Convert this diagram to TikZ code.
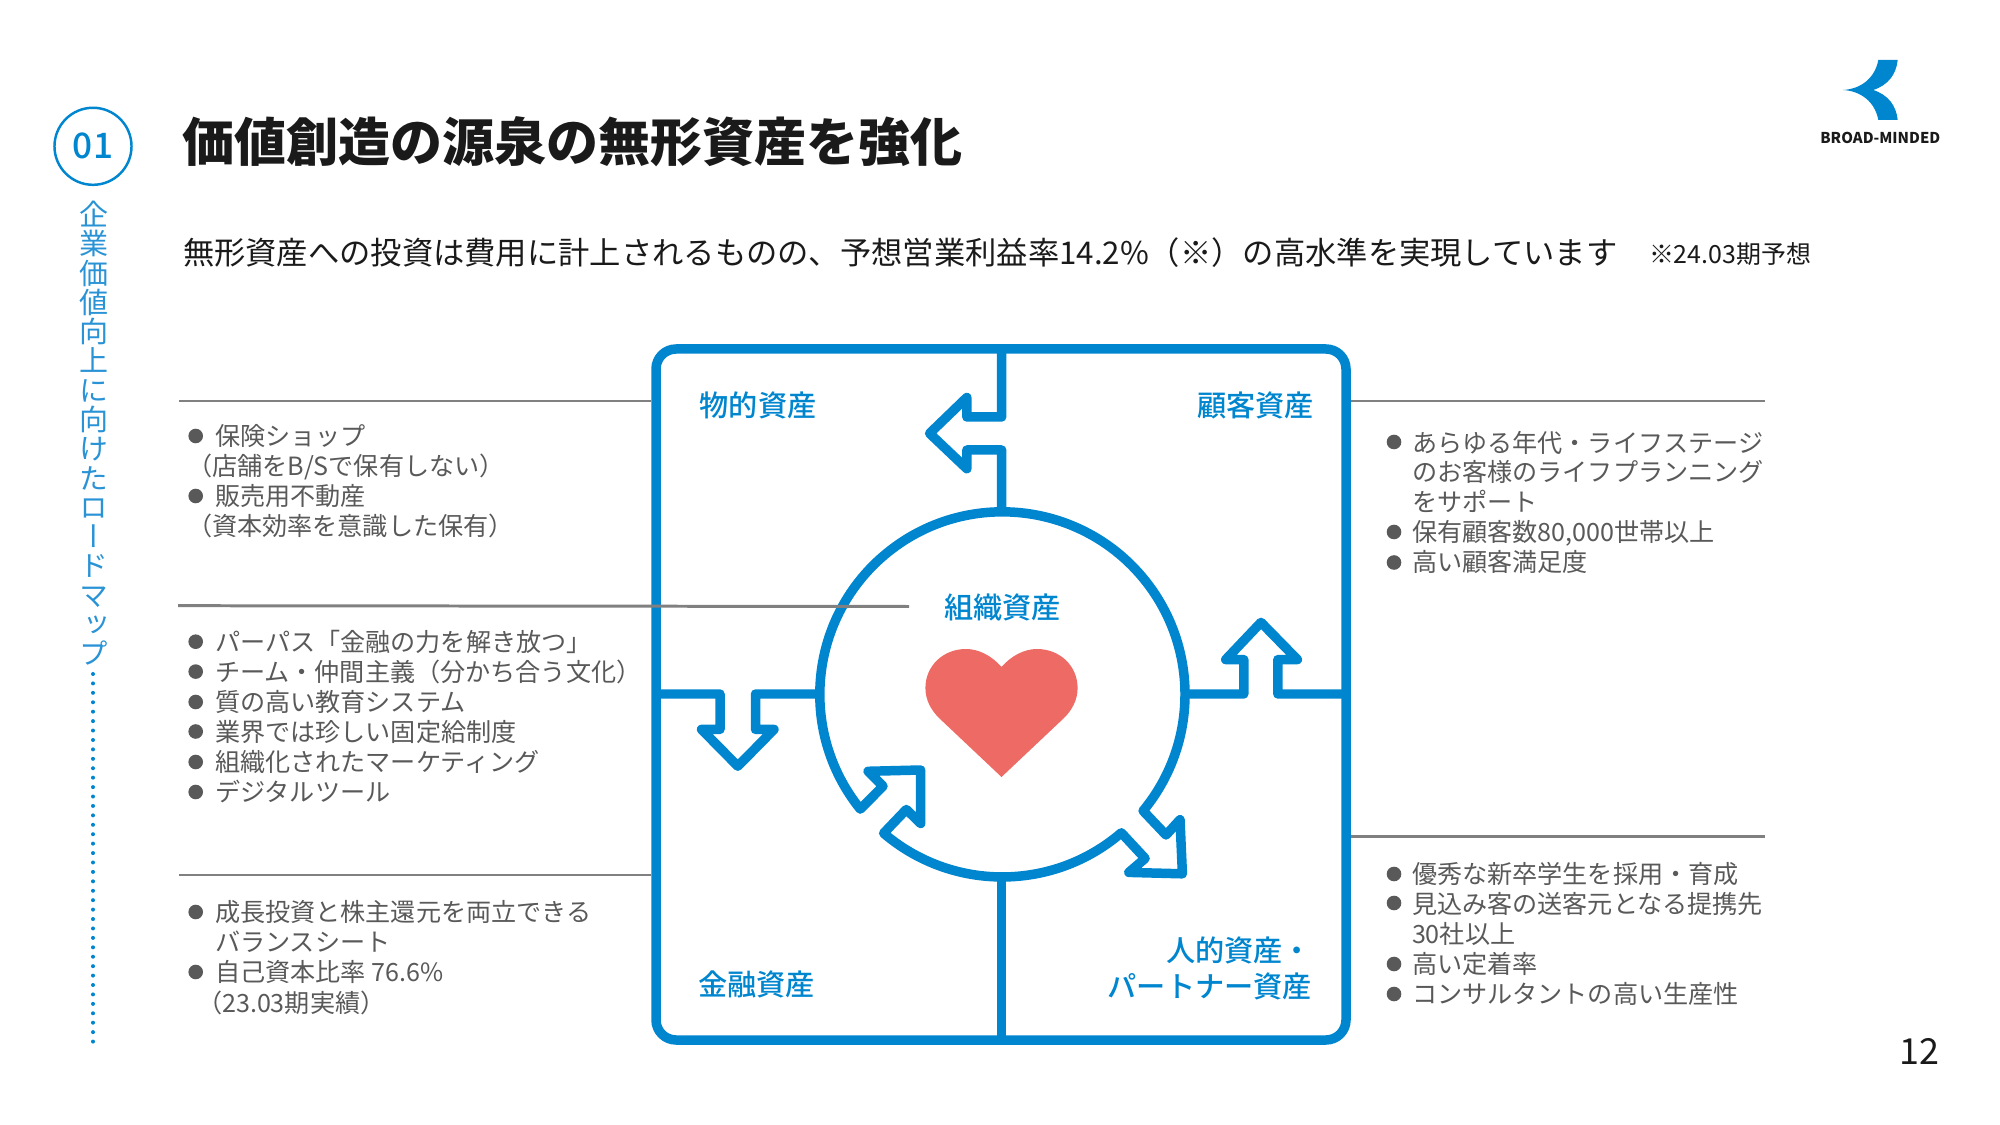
\documentclass[tikz,border=0pt]{standalone}
\usepackage{fontspec}
\setmainfont{Noto Sans CJK JP}
\newfontfamily\midfont{Noto Sans CJK JP Medium}
\newfontfamily\vertfont{Noto Sans CJK JP}[RawFeature=+vert]
\usetikzlibrary{positioning}

\definecolor{assetblue}{HTML}{0085CF}
\definecolor{sideblue}{HTML}{2A93D5}
\definecolor{rulegrey}{HTML}{808080}
\definecolor{textgrey}{HTML}{595959}
\definecolor{inkblack}{HTML}{1A1A1A}
\definecolor{heartred}{HTML}{EE6A64}

\begin{document}
\begin{tikzpicture}[
    x=0.01cm, y=-0.01cm,
    every node/.style={inner sep=0pt, outer sep=0pt},
    frameline/.style={draw=assetblue, line width=2.7pt, line join=round},
    leader/.style={draw=rulegrey, line width=0.85pt},
    asset/.style={text=assetblue, font=\midfont\fontsize{8.3}{10}\selectfont, align=right},
    item/.style={anchor=base west, text=textgrey, font=\fontsize{7.145}{8.5}\selectfont},
    dotmark/.style={circle, fill=textgrey, minimum size=0.146cm}
]
\useasboundingbox (0,0) rectangle (2000,1125);

% Heading
\node[anchor=west, text=inkblack, font=\bfseries\fontsize{14.8}{18}\selectfont] (title) at (182,141.6) {価値創造の源泉の無形資産を強化};
\node[anchor=west, text=inkblack, font=\fontsize{8.9}{11}\selectfont] (subtitle) at (183,252.5) {無形資産への投資は費用に計上されるものの、予想営業利益率14.2\%（※）の高水準を実現しています};
\node[anchor=west, text=inkblack, font=\fontsize{7.1}{9}\selectfont] (estimate) at (1649,254) {※24.03期予想};
\node[text=inkblack, font=\fontsize{10.2}{12}\selectfont] (pageno) at (1919.6,1051) {12};

% Side marker
\node[circle, draw=assetblue, line width=0.7pt, minimum size=0.77cm, text=assetblue, font=\midfont\fontsize{10}{12}\selectfont] (chapter) at (93,146.3) {\raisebox{-0.5pt}{01}};
\node[anchor=north, text=sideblue, align=center, font=\vertfont\fontsize{8.25}{8.33}\selectfont] (roadmap) at (94,201) {企\\業\\価\\値\\向\\上\\に\\向\\け\\た\\ロ\\ー\\ド\\マ\\ッ\\プ};
\coordinate (dotstart) at (93,674);
\coordinate (dotend) at (93,1043);
\draw[assetblue, line width=1.14pt, line cap=round, dash pattern=on 0pt off 2.68pt] (dotstart) -- (dotend);

% Logo
\fill[assetblue] (1843,90) .. controls (1861,89) and (1875,78) .. (1878.3,60) -- (1897.7,60)
    .. controls (1896,75) and (1888,85) .. (1873.3,90)
    .. controls (1888,95) and (1896,105) .. (1897.7,120) -- (1878.3,120)
    .. controls (1875,102) and (1861,91) .. (1843,90) -- cycle;
\node[text=inkblack, font=\bfseries\fontsize{4.25}{5}\selectfont] (logotext) at (1880.3,138.3) {BROAD-MINDED};

% Frame and spokes
\draw[frameline, rounded corners=0.2cm] (656,349) rectangle (1346,1040);
\draw[frameline] (1001.7,349) -- (1001.7,417) -- (966.8,417) -- (966.8,397.5) -- (929.6,433.4) -- (966.8,468.7) -- (966.8,450) -- (1001.7,450) -- (1001.7,513);
\draw[frameline] (656,694) -- (720,694) -- (720,729.4) -- (701.5,729.4) -- (737.8,766.2) -- (774,729.4) -- (755.5,729.4) -- (755.5,694) -- (820,694);
\draw[frameline] (1346,694) -- (1277.8,694) -- (1277.8,659.6) -- (1297.4,659.6) -- (1261,622.4) -- (1225.7,659.6) -- (1243.8,659.6) -- (1243.8,694) -- (1186,694);
\draw[frameline] (1001.7,876) -- (1001.7,1040);

% Hub with its two arrows
\draw[frameline] (1121.3,832.8) arc[start angle=-49.3, end angle=-130.5, radius=1.825cm]
    -- (906.3,809.5) -- (920.7,823.5) -- (920.7,770) -- (868.1,771.3) -- (883,786.2) -- (860.3,809.1)
    arc[start angle=218.9, end angle=-39.6, radius=1.825cm]
    -- (1166,835) -- (1180,819.7) -- (1182.4,873.8) -- (1128.8,872.4) -- (1145.1,858.4) -- cycle;

% Heart
\fill[heartred] (1001.5,777) -- (939,718) .. controls (931,710) and (925.4,700) .. (925.4,688)
    .. controls (925.4,666) and (943,649) .. (966,649) .. controls (979,649) and (992,656) .. (1001.5,667)
    .. controls (1011,656) and (1024,649) .. (1037,649) .. controls (1060,649) and (1077.6,666) .. (1077.6,688)
    .. controls (1077.6,700) and (1072,710) .. (1064,718) -- cycle;

% Asset labels
\node[asset] (physical) at (758,405) {物的資産};
\node[asset] (customer) at (1255.5,405) {顧客資産};
\node[asset] (organisation) at (1002.7,607.5) {組織資産};
\node[asset] (financial) at (756.4,984.5) {金融資産};
\node[asset, anchor=east] (human) at (1312,968.5) {人的資産・\\パートナー資産};

% Leader lines
\coordinate (ruleA) at (179,401);
\coordinate (ruleB) at (178,605.7);
\coordinate (ruleC) at (179,875);
\coordinate (ruleD) at (1351,401);
\coordinate (ruleE) at (1351,836.5);
\draw[leader] (ruleA) -- (651,401);
\draw[leader] (ruleB) -- (909,606.5);
\draw[leader] (ruleC) -- (651,875);
\draw[leader] (ruleD) -- (1765,401);
\draw[leader] (ruleE) -- (1765,836.5);

% Bullet marks
\foreach \px/\py [count=\i] in {195.7/436, 195.7/496, 195.7/641.7, 195.7/671.6, 195.7/702, 195.7/731.5, 195.7/762, 195.7/792, 195.7/912, 195.7/972, 1394/442, 1394/532, 1394/562.5, 1394/874, 1394/903, 1394/964, 1394/994}
    \node[dotmark] (mark\i) at (\px,\py) {};

% List lines
\foreach \px/\py/\line [count=\i] in {
    215/446/保険ショップ, 187/476/{（店舗をB/Sで保有しない）}, 215/506/販売用不動産, 187/536/（資本効率を意識した保有）,
    215/651.7/パーパス「金融の力を解き放つ」, 215/681.6/チーム・仲間主義（分かち合う文化）, 215/711.5/質の高い教育システム, 215/741.5/業界では珍しい固定給制度, 215/771.5/組織化されたマーケティング, 215/801.5/デジタルツール,
    215/921.5/成長投資と株主還元を両立できる, 215/951.5/バランスシート, 215/981.5/自己資本比率 76.6\%, 197/1012/（23.03期実績）,
    1412/452.5/あらゆる年代・ライフステージ, 1412/481.5/のお客様のライフプランニング, 1412/511.5/をサポート, 1412/542/保有顧客数80{,}000世帯以上, 1412/572/高い顧客満足度,
    1412/883.5/優秀な新卒学生を採用・育成, 1412/913.5/見込み客の送客元となる提携先, 1412/943/30社以上, 1412/973/高い定着率, 1412/1003/コンサルタントの高い生産性}
    \node[item] (line\i) at (\px,\py) {\line};

\end{tikzpicture}
\end{document}
